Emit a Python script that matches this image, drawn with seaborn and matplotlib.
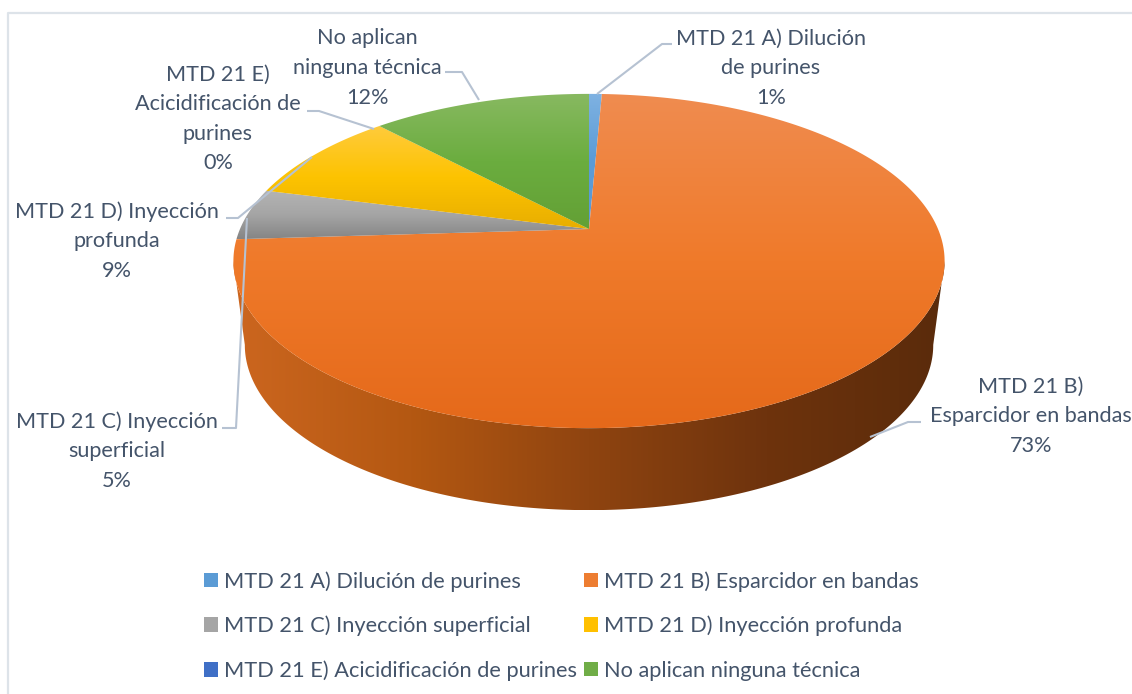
import numpy as np
import matplotlib
matplotlib.use("Agg")
import matplotlib.pyplot as plt
from matplotlib.patches import Polygon, Patch
import seaborn as sns

# -----------------------------
# Data
# -----------------------------
categories = [
    "MTD 21 A) Dilución de purines",
    "MTD 21 B) Esparcidor en bandas",
    "MTD 21 C) Inyección superficial",
    "MTD 21 D) Inyección profunda",
    "MTD 21 E) Acicidificación de purines",
    "No aplican ninguna técnica",
]
label_names = [
    "MTD 21 A) Dilución\nde purines",
    "MTD 21 B)\nEsparcidor en bandas",
    "MTD 21 C) Inyección\nsuperficial",
    "MTD 21 D) Inyección\nprofunda",
    "MTD 21 E)\nAcicidificación de\npurines",
    "No aplican\nninguna técnica",
]
values = [0.7, 73.3, 5.0, 9.0, 0.0, 12.0]

# -----------------------------
# Style / layout (pixels)
# -----------------------------
W, H = 1132, 694
base_colors = ["#5B9BD5", "#ED7D31", "#A5A5A5", "#FFC000", "#3F6FC6", "#70AD47"]
top_stops = [
    ["#7FB2E2", "#5B9BD5", "#5B9BD5"],
    ["#F08C50", "#EF7A2A", "#E5691A"],
    ["#B4B4B4", "#A5A5A5", "#858585"],
    ["#FFCB3C", "#FDC300", "#E8AE00"],
    ["#4472C4", "#4472C4", "#3A62AC"],
    ["#88B961", "#6BAD3F", "#63A035"],
]
rim_stops = ["#CC661F", "#B45812", "#8F4410", "#6E330D", "#5A2B0B"]
text_color = "#44546A"
leader_color = "#B6C2D2"
border_color = "#DDE3E9"

label_pos = [(771, 68), (1031, 416), (117, 451), (117, 241), (218, 119), (367, 68)]
leaders = [
    [(597, 94), (662, 44), (672, 44)],
    [(870, 437), (908, 422), (921, 422)],
    [(247, 218), (236, 428), (222, 428)],
    [(312, 157), (238, 218), (226, 218)],
    [(374, 129), (319, 111), (307, 111)],
    [(479, 100), (462, 72), (445, 72)],
]

# pie geometry: tilted disc seen in perspective
CX, CY = 589, 229
RX, RY, PERSP = 349, 161, 0.1916
FONT = 15.6
LEGEND_FONT = 15.7


def rim_point(theta):
    """Clockwise angle from the top (radians) -> pixel position on the top face edge."""
    u, v = np.sin(theta), np.cos(theta)
    d = 1 + PERSP * v
    return CX + RX * u / d, CY - RY * v / d


def lower_point(theta):
    """Same angle on the bottom edge of the disc."""
    x, y = rim_point(theta)
    return 590 + (x - 590) * 0.968, 345 + (y - 261) * 0.988


def gradient_fill(ax, xy, colors, horizontal=False, zorder=2):
    poly = Polygon(xy, closed=True, facecolor="none", edgecolor="none", transform=ax.transData)
    ax.add_patch(poly)
    xs, ys = xy[:, 0], xy[:, 1]
    cmap = sns.blend_palette(colors, n_colors=256, as_cmap=True)
    ramp = np.linspace(0, 1, 256)
    ramp = ramp[None, :] if horizontal else ramp[:, None]
    im = ax.imshow(
        ramp,
        cmap=cmap,
        vmin=0,
        vmax=1,
        extent=(xs.min(), xs.max(), ys.max(), ys.min()),
        aspect="auto",
        origin="upper",
        interpolation="bilinear",
        zorder=zorder,
    )
    im.set_clip_path(poly)


def main():
    sns.set_theme(style="white")
    plt.rcParams["font.family"] = ["Lato", "DejaVu Sans"]

    fig = plt.figure(figsize=(W / 100, H / 100), dpi=100)
    ax = fig.add_axes([0, 0, 1, 1])
    ax.set_axis_off()

    # side of the disc, only the part facing the viewer
    t = np.radians(np.linspace(101, 259, 240))
    upper = np.column_stack(rim_point(t))
    lower = np.column_stack(lower_point(t))
    gradient_fill(ax, np.vstack([upper, lower[::-1]]), rim_stops, horizontal=True, zorder=1)

    # top face
    edges = np.cumsum([0] + values) / sum(values) * 2 * np.pi
    for i, v in enumerate(values):
        if v <= 0:
            continue
        t = np.linspace(edges[i], edges[i + 1], max(int(v * 8), 8))
        arc = np.column_stack(rim_point(t))
        xy = np.vstack([[CX, CY], arc])
        gradient_fill(ax, xy, top_stops[i], zorder=2)

    # data labels
    for name, v, (x, y) in zip(label_names, values, label_pos):
        ax.text(x, y, f"{name}\n{round(v)}%", ha="center", va="center", color=text_color,
                fontsize=FONT, linespacing=1.6, zorder=4, clip_on=False)

    for pts in leaders:
        px, py = zip(*pts)
        ax.plot(px, py, color=leader_color, lw=1.5, zorder=3, solid_capstyle="butt")

    # chart frame, only left and top are inside the crop
    ax.plot([8, 8, W], [H, 13, 13], color=border_color, lw=1.6, zorder=0)

    # legend fills column by column
    handles = [Patch(facecolor=c, edgecolor="none") for c in base_colors]
    order = [0, 2, 4, 1, 3, 5]
    font_px = LEGEND_FONT * 100 / 72
    ax.legend(
        [handles[i] for i in order],
        [categories[i] for i in order],
        ncol=2,
        loc="upper left",
        bbox_to_anchor=(204 / W, 1 - 571 / H),
        frameon=False,
        fontsize=LEGEND_FONT,
        labelcolor=text_color,
        borderpad=0,
        borderaxespad=0,
        handlelength=14 / font_px,
        handleheight=14 / font_px,
        handletextpad=6 / font_px,
        columnspacing=7 / font_px,
        labelspacing=(46 - font_px) / font_px,
    )

    ax.set_xlim(0, W)
    ax.set_ylim(H, 0)
    fig.savefig("out.png", dpi=100)


if __name__ == "__main__":
    main()
